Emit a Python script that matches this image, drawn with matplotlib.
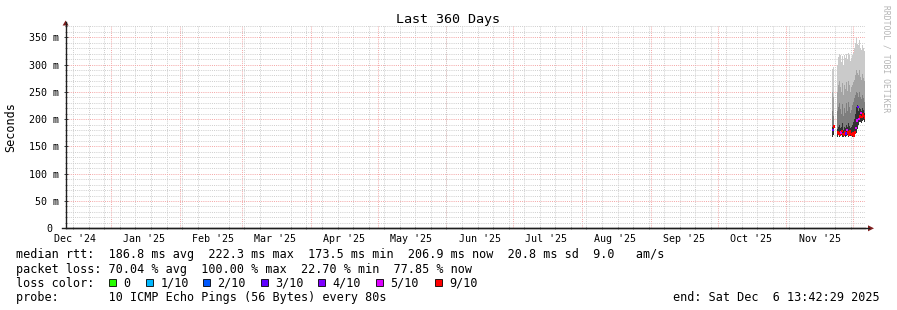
import matplotlib
matplotlib.use("Agg")
import matplotlib.pyplot as plt
import matplotlib.dates as mdates
from matplotlib.patches import Rectangle, Polygon
from matplotlib.ticker import MultipleLocator, FixedLocator, FuncFormatter
from datetime import datetime, timedelta
import numpy as np

plt.rcParams['font.family'] = ['DejaVu Sans Mono']

end = datetime(2025, 12, 6, 13, 42, 29)
start = end - timedelta(days=360)

# data columns: days before end, smoke layers (ms), median (ms), lost pings of 10
days_before = [14.62, 14.17, 12.37, 11.92, 11.47, 11.02, 10.57, 10.12, 9.67, 9.22,
               8.77, 8.32, 7.87, 7.42, 6.97, 6.52, 6.07, 5.62, 5.17, 4.72,
               4.27, 3.82, 3.37, 2.92, 2.47, 2.02, 1.57, 1.12, 0.67, 0.22]
ping_min = [167, 170, 168, 170, 168, 169, 170, 168, 167, 170,
            168, 169, 170, 168, 170, 169, 170, 168, 167, 170,
            172, 175, 182, 190, 194, 195, 192, 196, 198, 195]
ping_max = [292, 296, 300, 314, 320, 318, 305, 316, 300, 318,
            312, 320, 310, 322, 318, 306, 312, 318, 322, 330,
            340, 348, 338, 335, 345, 330, 326, 336, 330, 325]
smoke_hi2 = [250, 240, 250, 262, 270, 258, 250, 266, 245, 262,
             256, 268, 252, 270, 262, 250, 258, 262, 268, 272,
             280, 290, 285, 280, 290, 278, 272, 282, 276, 270]
smoke_hi3 = [215, 205, 215, 222, 230, 218, 210, 228, 205, 220,
             212, 230, 214, 232, 222, 212, 216, 225, 232, 238,
             245, 250, 248, 240, 250, 240, 236, 244, 238, 232]
smoke_hi4 = [185, 190, 182, 186, 190, 184, 185, 192, 180, 186,
             183, 190, 185, 192, 188, 184, 186, 190, 195, 200,
             210, 222, 225, 215, 220, 218, 214, 220, 216, 212]
median = [180, 186, 176, 174, 172, 175, 178, 173, 171, 176,
          174, 180, 175, 172, 177, 173, 171, 174, 170, 176,
          184, 198, 222, 200, 205, 211, 204, 208, 206, 203]
loss = [3, 9, 9, 9, 9, 5, 9, 9, 9, 9,
        3, 5, 9, 9, 9, 9, 9, 9, 9, 9,
        5, 5, 3, 5, 9, 5, 9, 9, 9, 9]

loss_levels = [0, 1, 2, 3, 4, 5, 9]
loss_labels = ['0', '1/10', '2/10', '3/10', '4/10', '5/10', '9/10']
loss_colors = ['#26ff00', '#00b8ff', '#0059ff', '#5e00ff', '#7e00ff', '#dd00ff', '#ff0000']

month_labels = ["Dec '24", "Jan '25", "Feb '25", "Mar '25", "Apr '25", "May '25",
                "Jun '25", "Jul '25", "Aug '25", "Sep '25", "Oct '25", "Nov '25"]
y_ticks = [0, 50, 100, 150, 200, 250, 300, 350]

fig = plt.figure(figsize=(8.97, 3.10), dpi=100)
ax = fig.add_axes([65.6 / 897, (310 - 228.3) / 310, 799.8 / 897, 202 / 310])

t = np.array([mdates.date2num(end - timedelta(days=d)) for d in days_before])
lo = np.array(ping_min)
w = 0.38
for hi, col in [(ping_max, '#cacaca'), (smoke_hi2, '#a4a4a4'),
                (smoke_hi3, '#7e7e7e'), (smoke_hi4, '#323232')]:
    ax.bar(t, np.array(hi) - lo, bottom=lo, width=w, color=col, linewidth=0, zorder=2)
cmap = dict(zip(loss_levels, loss_colors))
ax.scatter(t, median, s=3.5, marker='s', c=[cmap[l] for l in loss], linewidths=0, zorder=3)

ax.set_xlim(mdates.date2num(start), mdates.date2num(end))
ax.set_ylim(0, 370)

# grid
gray = '#cdcdcd'
red = '#f4a4a4'
ax.set_axisbelow(True)
ax.yaxis.set_major_locator(FixedLocator(y_ticks))
ax.yaxis.set_minor_locator(MultipleLocator(10))
ax.yaxis.set_major_formatter(FuncFormatter(lambda v, p: f"{int(v)} m" if v else "0 "))
ax.xaxis.set_minor_locator(mdates.WeekdayLocator(byweekday=mdates.SU))
mid = []
for i, lab in enumerate(month_labels):
    y, m = 2024 + (11 + i) // 12, (11 + i) % 12 + 1
    mid.append(mdates.date2num(datetime(y, m, 16)))
ax.xaxis.set_major_locator(FixedLocator(mid))
ax.set_xticklabels(month_labels)
ax.grid(which='minor', color=gray, linestyle=(0, (1, 1.2)), linewidth=0.7)
ax.grid(which='major', axis='y', color=red, linestyle=(0, (1, 1.2)), linewidth=0.7)
for i in range(12):
    y, m = 2025 + i // 12, i % 12 + 1
    ax.axvline(mdates.date2num(datetime(y, m, 1)), color=red,
               linestyle=(0, (1, 1.2)), linewidth=0.7, zorder=0.5)

for s in ['top', 'right']:
    ax.spines[s].set_visible(False)
for s in ['left', 'bottom']:
    ax.spines[s].set_color('#1f1f1f')
    ax.spines[s].set_linewidth(1.0)
ax.tick_params(axis='y', which='major', length=3, width=0.6, direction='inout', pad=3,
               labelsize=7.2, color='#1f1f1f')
ax.tick_params(axis='y', which='minor', length=2, width=0.5, direction='inout', color='#555555')
ax.tick_params(axis='x', which='major', length=0, pad=4, labelsize=7.2)
ax.tick_params(axis='x', which='minor', length=2, width=0.5, direction='inout', color='#555555')

# overlay in pixel coordinates for texts and arrows
ov = fig.add_axes([0, 0, 1, 1], zorder=5)
ov.set_xlim(0, 897)
ov.set_ylim(310, 0)
ov.axis('off')

arrow = (0.5, 0.12, 0.12)
ov.plot([65.6, 65.6], [26.3, 22], color='#1f1f1f', lw=1)
ov.plot([62, 869], [228.3, 228.3], color='#1f1f1f', lw=1)
ov.add_patch(Polygon([[62.6, 25.5], [68.6, 25.5], [65.6, 20.5]], closed=True, color=arrow, lw=0))
ov.add_patch(Polygon([[868, 225.3], [868, 231.3], [874, 228.3]], closed=True, color=arrow, lw=0))

ov.text(448.5, 19, "Last 360 Days", ha='center', va='center', fontsize=9.6)
ov.text(11, 127, "Seconds", ha='center', va='center', rotation=90, fontsize=8.5)
ov.text(886, 5, "RRDTOOL / TOBI OETIKER", ha='center', va='top', rotation=270,
        fontsize=5.8, color='#b4b4b4')

fs = 8.5
ov.text(16, 258.3, "median rtt:  186.8 ms avg  222.3 ms max  173.5 ms min  206.9 ms now  20.8 ms sd  9.0   am/s",
        fontsize=fs, va='baseline')
ov.text(16, 272.5, "packet loss: 70.04 % avg  100.00 % max  22.70 % min  77.85 % now",
        fontsize=fs, va='baseline')
ov.text(16, 286.7, "loss color:", fontsize=fs, va='baseline')
box_x = [108.7, 146, 203, 261, 318, 376, 435]
for bx, lab, col in zip(box_x, loss_labels, loss_colors):
    ov.add_patch(Rectangle((bx, 278.5), 7, 7.5, facecolor=col, edgecolor='black', lw=0.6))
    ov.text(bx + 14.5, 286.7, lab, fontsize=fs, va='baseline')
ov.text(16, 301, "probe:       10 ICMP Echo Pings (56 Bytes) every 80s", fontsize=fs, va='baseline')
ov.text(880, 301, "end: Sat Dec  6 13:42:29 2025", fontsize=fs, va='baseline', ha='right')

fig.savefig('out.png', dpi=100)
